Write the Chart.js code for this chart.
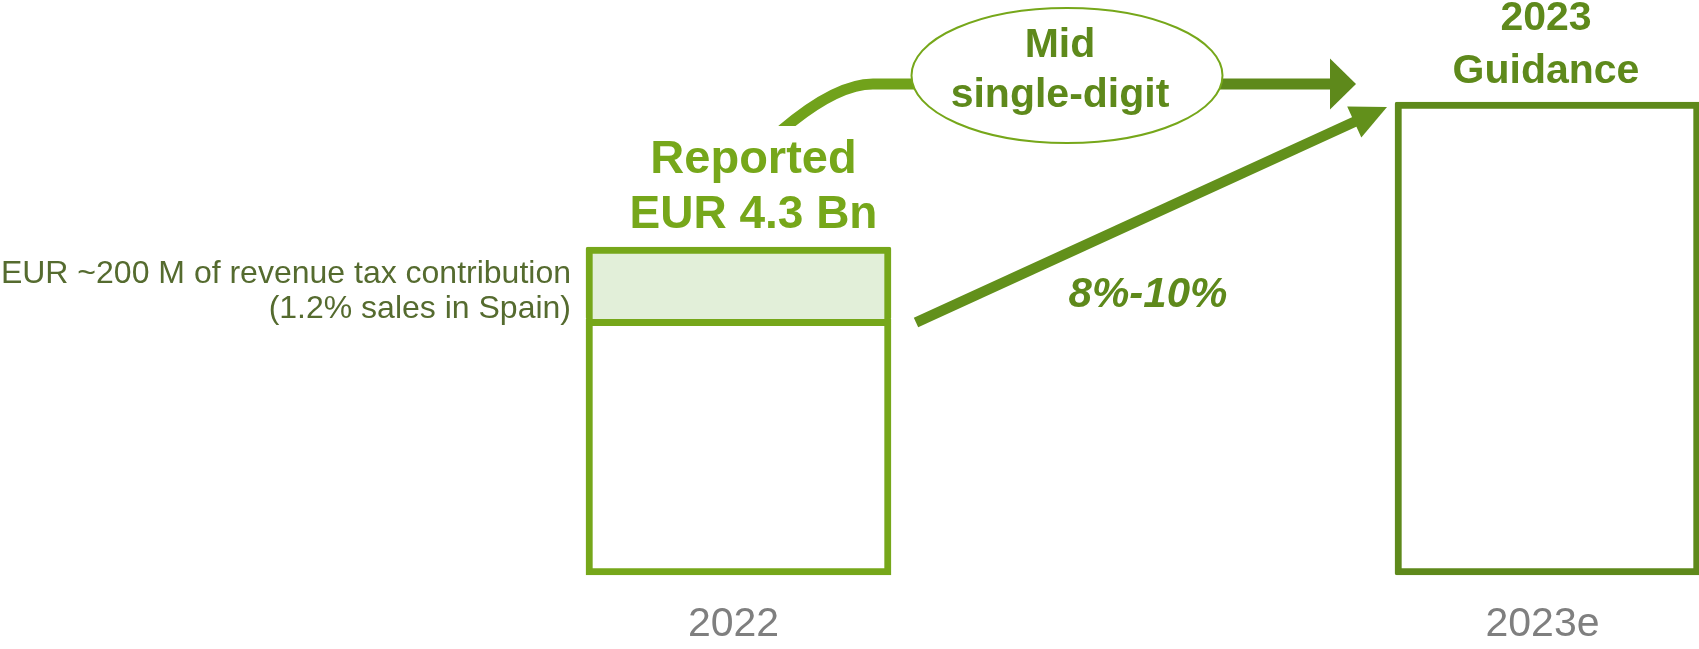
<!DOCTYPE html>
<html>
<head>
<meta charset="utf-8">
<script src="https://cdn.jsdelivr.net/npm/chart.js@4.4.1/dist/chart.umd.min.js"></script>
<style>
  html, body { margin: 0; padding: 0; background: #fff; overflow: hidden; }
  #wrap { width: 1699px; height: 649px; position: relative; }
</style>
</head>
<body>
<div id="wrap"><canvas id="salesChart"></canvas></div>
<script>
// chart data (schematic heights as drawn, EUR Bn scale)
const years = ['2022', '2023e'];
const baseSales = [3.35, 6.2];
const taxSlice = [0.95, null]; // revenue tax contribution block on top of 2022
const reportedLines = ['Reported', 'EUR 4.3 Bn'];
const guidanceLines = ['2023', 'Guidance'];
const midLines = ['Mid', 'single-digit'];
const growthLabel = '8%-10%';
const taxNoteLines = ['EUR ~200 M of revenue tax contribution', '(1.2% sales in Spain)'];

const LIGHT = '#76A71A';
const DARK = '#5E891B';
const FONT = "'Liberation Sans', Arial, sans-serif";

Chart.defaults.font.family = FONT;

function drawArrow(ctx, x0, y0, x1, y1, width, headLen, headHalf, color) {
    const ang = Math.atan2(y1 - y0, x1 - x0);
    const bx = x1 - headLen * Math.cos(ang);
    const by = y1 - headLen * Math.sin(ang);
    ctx.strokeStyle = color;
    ctx.lineWidth = width;
    ctx.lineCap = 'butt';
    ctx.beginPath();
    ctx.moveTo(x0, y0);
    ctx.lineTo(bx + Math.cos(ang), by + Math.sin(ang));
    ctx.stroke();
    ctx.fillStyle = color;
    ctx.beginPath();
    ctx.moveTo(x1, y1);
    ctx.lineTo(bx + headHalf * Math.sin(ang), by - headHalf * Math.cos(ang));
    ctx.lineTo(bx - headHalf * Math.sin(ang), by + headHalf * Math.cos(ang));
    ctx.closePath();
    ctx.fill();
}

// arrows, bubble and text around the bars
const annotations = {
    id: 'annotations',
    afterDatasetsDraw(chart) {
        const ctx = chart.ctx;
        const bar0 = chart.getDatasetMeta(0).data[0];
        const bar1 = chart.getDatasetMeta(0).data[1];
        const tax0 = chart.getDatasetMeta(1).data[0];
        const top0 = tax0.y;
        const left0 = bar0.x - bar0.width / 2;
        const right0 = bar0.x + bar0.width / 2;
        const left1 = bar1.x - bar1.width / 2;

        ctx.save();
        ctx.textBaseline = 'alphabetic';

        // curved connector from "Reported" to the bubble
        ctx.save();
        ctx.beginPath();
        ctx.rect(0, 0, chart.width, 126);
        ctx.clip();
        ctx.strokeStyle = '#71A21B';
        ctx.lineWidth = 11;
        ctx.beginPath();
        ctx.moveTo(782, 130);
        ctx.quadraticCurveTo(836, 84, 873, 84);
        ctx.lineTo(915, 84);
        ctx.stroke();
        ctx.restore();

        // straight arrow from bubble to 2023
        drawArrow(ctx, 1220, 84, 1356, 84, 11, 26, 25.5, DARK);

        // diagonal growth arrow
        drawArrow(ctx, right0 + 25, bar0.y + 3, left1 - 8, bar1.y + 5, 10.5, 36, 17, '#62901B');

        // bubble
        ctx.beginPath();
        ctx.ellipse(1067, 75.5, 155.5, 67.5, 0, 0, Math.PI * 2);
        ctx.fillStyle = '#FFFFFF';
        ctx.fill();
        ctx.lineWidth = 2;
        ctx.strokeStyle = LIGHT;
        ctx.stroke();

        ctx.textAlign = 'center';
        ctx.fillStyle = DARK;
        ctx.font = `bold 41px ${FONT}`;
        ctx.fillText(midLines[0], 1060, 57);
        ctx.fillText(midLines[1], 1060, 107);

        // 2023 guidance title
        ctx.fillText(guidanceLines[0], bar1.x - 1.5, bar1.y - 72);
        ctx.fillText(guidanceLines[1], bar1.x - 1.5, bar1.y - 19.5);

        // growth range
        ctx.font = `italic bold 42px ${FONT}`;
        ctx.fillText(growthLabel, 1148, 307);

        // reported label
        ctx.fillStyle = LIGHT;
        ctx.font = `bold 47px ${FONT}`;
        ctx.fillText(reportedLines[0], bar0.x + 15, top0 - 74);
        ctx.font = `bold 46px ${FONT}`;
        ctx.fillText(reportedLines[1], bar0.x + 15, top0 - 19);

        // tax note on the left
        ctx.textAlign = 'right';
        ctx.fillStyle = '#556B2F';
        ctx.font = `32px ${FONT}`;
        ctx.fillText(taxNoteLines[0], left0 - 15, top0 + 36);
        ctx.fillText(taxNoteLines[1], left0 - 15, top0 + 71);

        ctx.restore();
    }
};

const chartCtx = document.getElementById('salesChart').getContext('2d');
new Chart(chartCtx, {
    type: 'bar',
    data: {
        labels: years,
        datasets: [
            {
                label: 'Sales',
                data: baseSales,
                backgroundColor: '#FFFFFF',
                borderColor: [LIGHT, DARK],
                borderWidth: 7,
                borderSkipped: false,
                borderRadius: 2,
                barThickness: 305,
                clip: false
            },
            {
                label: 'Revenue tax contribution',
                data: taxSlice,
                backgroundColor: '#E2EFD9',
                borderColor: LIGHT,
                borderWidth: { top: 7, left: 7, right: 7, bottom: 0 },
                borderSkipped: false,
                borderRadius: 2,
                barThickness: 305,
                clip: false
            }
        ]
    },
    options: {
        responsive: true,
        maintainAspectRatio: false,
        animation: false,
        layout: {
            padding: { left: 738.5, right: 151.5, top: 41, bottom: 4 }
        },
        plugins: {
            legend: { display: false },
            tooltip: { enabled: false }
        },
        scales: {
            x: {
                stacked: true,
                offset: false,
                grid: { display: false, drawTicks: false },
                border: { display: false },
                ticks: {
                    color: '#7F7F7F',
                    font: { size: 41, lineHeight: 1 },
                    padding: 29,
                    labelOffset: -5,
                    maxRotation: 0
                },
                afterFit: (scale) => { scale.height = 70; }
            },
            y: {
                stacked: true,
                display: false,
                min: 0,
                max: 7
            }
        }
    },
    plugins: [annotations]
});
</script>
</body>
</html>
